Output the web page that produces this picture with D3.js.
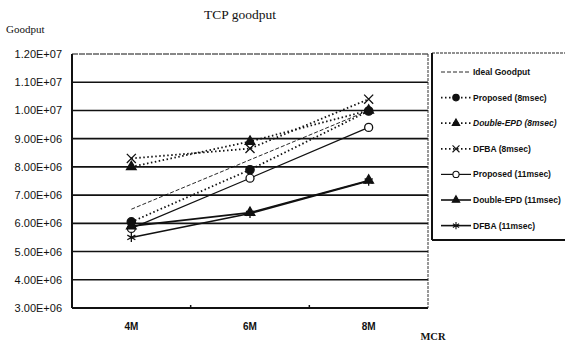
<!DOCTYPE html>
<html>
<head>
  <meta charset="utf-8">
  <script src="https://d3js.org/d3.v7.min.js"></script>
  <style>
    body { margin: 0; background: #fff; }
    svg { display: block; }
    .ylab, .xlab { font-family: "Liberation Sans", Arial, sans-serif; font-size: 11px; fill: #111; }
    .serif { font-family: "Liberation Serif", "Times New Roman", serif; fill: #111; }
    .legend text { font-family: "Liberation Sans", Arial, sans-serif; font-size: 8.5px; font-weight: bold; fill: #111; }
  </style>
</head>
<body>
  <svg id="chart" width="565" height="344"></svg>
  <script>
    // data
    const categories = ["4M", "6M", "8M"];
    const yTicks = [3e6, 4e6, 5e6, 6e6, 7e6, 8e6, 9e6, 1e7, 1.1e7, 1.2e7];
    const seriesNames = ["Ideal Goodput", "Proposed (8msec)", "Double-EPD (8msec)", "DFBA (8msec)",
      "Proposed (11msec)", "Double-EPD (11msec)", "DFBA (11msec)"];
    const idealValues = [6.5e6, 8.25e6, 1.0e7];
    const proposed8 = [6.05e6, 7.9e6, 9.98e6];
    const doubleEpd8 = [8.0e6, 8.9e6, 1.0e7];
    const dfba8 = [8.3e6, 8.65e6, 1.04e7];
    const proposed11 = [5.82e6, 7.6e6, 9.4e6];
    const doubleEpd11 = [5.9e6, 6.38e6, 7.52e6];
    const dfba11 = [5.5e6, 6.35e6, 7.5e6];

    const svg = d3.select("#chart");
    const margin = { top: 54, left: 72, right: 137, bottom: 36 };
    const width = 565 - margin.left - margin.right;
    const height = 344 - margin.top - margin.bottom;
    const chart = svg.append("g").attr("transform", `translate(${margin.left},${margin.top})`);

    const x = d3.scaleBand().domain(categories).range([0, width]);
    const y = d3.scaleLinear().domain([3e6, 1.2e7]).range([height, 0]);

    // titles
    svg.append("text").attr("class", "serif").attr("x", 240).attr("y", 19)
      .attr("text-anchor", "middle").style("font-size", "13.5px").text("TCP goodput");
    svg.append("text").attr("class", "serif").attr("x", 6).attr("y", 33)
      .style("font-size", "11px").text("Goodput");
    svg.append("text").attr("class", "serif").attr("x", 433).attr("y", 340)
      .attr("text-anchor", "middle").style("font-size", "10.5px").style("font-weight", "bold").text("MCR");

    // gridlines
    chart.selectAll("line.grid").data(yTicks.filter(d => d > 3e6))
      .join("line").attr("class", "grid")
      .attr("x1", 0).attr("x2", width)
      .attr("y1", d => y(d)).attr("y2", d => y(d))
      .attr("stroke", "#111")
      .attr("stroke-width", d => d === 1.2e7 ? 1 : 1.6)
      .attr("stroke-dasharray", d => d === 1.2e7 ? "6,1" : null);

    // y labels
    const fmt = d => {
      const e = Math.floor(Math.log10(d));
      const m = (d / Math.pow(10, e)).toFixed(2);
      return `${m}E+${String(e).padStart(2, "0")}`;
    };
    chart.selectAll("text.ylab").data(yTicks).join("text").attr("class", "ylab")
      .attr("x", -10).attr("y", d => y(d) + 4).attr("text-anchor", "end").text(fmt);

    // frame
    chart.append("line").attr("x1", 0).attr("x2", 0).attr("y1", 0).attr("y2", height)
      .attr("stroke", "#111").attr("stroke-width", 2);
    chart.append("line").attr("x1", 0).attr("x2", width).attr("y1", height).attr("y2", height)
      .attr("stroke", "#111").attr("stroke-width", 2);
    chart.append("line").attr("x1", width).attr("x2", width).attr("y1", 0).attr("y2", height)
      .attr("stroke", "#333").attr("stroke-width", 1).attr("stroke-dasharray", "3,1");
    chart.selectAll("line.tick").data(categories.slice(1)).join("line").attr("class", "tick")
      .attr("x1", d => x(d)).attr("x2", d => x(d)).attr("y1", height - 3).attr("y2", height)
      .attr("stroke", "#111").attr("stroke-width", 1.5);

    // x labels
    chart.selectAll("text.xlab").data(categories).join("text").attr("class", "xlab")
      .attr("x", d => x(d) + x.bandwidth() / 2).attr("y", height + 22)
      .attr("text-anchor", "middle").style("font-weight", "bold").style("font-size", "10px").text(d => d);

    // series styles
    const series = [
      { name: seriesNames[0], values: idealValues, dash: "4,2", width: 0.9, symbol: null },
      { name: seriesNames[1], values: proposed8, dash: "1.5,2.5", width: 1.8, symbol: d3.symbolCircle, fill: "#111", size: 55 },
      { name: seriesNames[2], values: doubleEpd8, dash: "1.5,2.5", width: 1.8, symbol: d3.symbolTriangle, fill: "#111", size: 40 },
      { name: seriesNames[3], values: dfba8, dash: "1.5,2.5", width: 1.8, symbol: d3.symbolTimes, fill: "none", size: 55 },
      { name: seriesNames[4], values: proposed11, dash: null, width: 1.2, symbol: d3.symbolCircle, fill: "#fff", size: 50 },
      { name: seriesNames[5], values: doubleEpd11, dash: null, width: 1.6, symbol: d3.symbolTriangle, fill: "#111", size: 40 },
      { name: seriesNames[6], values: dfba11, dash: null, width: 1.6, symbol: d3.symbolAsterisk, fill: "none", size: 60 }
    ];

    const line = d3.line().x((d, i) => x(categories[i]) + x.bandwidth() / 2).y(d => y(d));

    series.forEach(s => {
      chart.append("path").datum(s.values)
        .attr("d", line).attr("fill", "none").attr("stroke", "#111")
        .attr("stroke-width", s.width).attr("stroke-dasharray", s.dash);
      if (s.symbol) {
        chart.selectAll(null).data(s.values).join("path")
          .attr("transform", (d, i) => `translate(${x(categories[i]) + x.bandwidth() / 2},${y(d)})`)
          .attr("d", d3.symbol().type(s.symbol).size(s.size))
          .attr("fill", s.fill).attr("stroke", "#111").attr("stroke-width", 1.3);
      }
    });

    // legend
    const legend = svg.append("g").attr("class", "legend").attr("transform", "translate(432,53)");
    legend.append("line").attr("x1", 0).attr("x2", 140).attr("y1", 0).attr("y2", 0)
      .attr("stroke", "#222").attr("stroke-width", 1).attr("stroke-dasharray", "3,1");
    legend.append("line").attr("x1", 0).attr("x2", 0).attr("y1", 0).attr("y2", 187)
      .attr("stroke", "#111").attr("stroke-width", 2);
    legend.append("line").attr("x1", 0).attr("x2", 140).attr("y1", 187).attr("y2", 187)
      .attr("stroke", "#111").attr("stroke-width", 2);

    const rowY = i => 19 + i * 25.6;
    series.forEach((s, i) => {
      const g = legend.append("g").attr("transform", `translate(0,${rowY(i)})`);
      g.append("line").attr("x1", 9).attr("x2", 39).attr("y1", 0).attr("y2", 0)
        .attr("stroke", "#111").attr("stroke-width", s.width).attr("stroke-dasharray", s.dash);
      if (s.symbol) {
        g.append("path").attr("transform", "translate(24,0)")
          .attr("d", d3.symbol().type(s.symbol).size(s.size * 0.6))
          .attr("fill", s.fill).attr("stroke", "#111").attr("stroke-width", 1.1);
      }
      g.append("text").attr("x", 41).attr("y", 3).text(s.name)
        .style("font-style", s.name.startsWith("Double") && s.name.includes("8") ? "italic" : null);
    });
  </script>
</body>
</html>
